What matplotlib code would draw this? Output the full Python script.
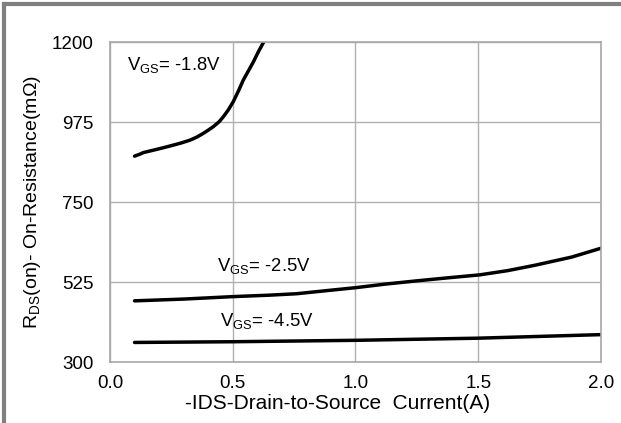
import matplotlib
matplotlib.use('Agg')
import matplotlib.pyplot as plt
from matplotlib.lines import Line2D

plt.rcParams['font.family'] = ['Liberation Sans', 'DejaVu Sans']
plt.rcParams['mathtext.fontset'] = 'custom'
plt.rcParams['mathtext.rm'] = 'Liberation Sans'
plt.rcParams['mathtext.it'] = 'Liberation Sans'

# data
x_18 = [0.10, 0.12, 0.136, 0.16, 0.19, 0.225, 0.258, 0.29, 0.326, 0.355, 0.38, 0.40, 0.421, 0.445, 0.462,
        0.482, 0.502, 0.523, 0.543, 0.564, 0.584, 0.604, 0.626]
y_18 = [879, 884, 889, 893, 898, 904, 910, 916, 924, 933, 943, 952, 962, 976, 990,
        1009, 1032, 1062, 1093, 1119, 1144, 1172, 1200]

x_25 = [0.10, 0.30, 0.504, 0.65, 0.76, 0.90, 1.00, 1.12, 1.246, 1.38, 1.505, 1.62, 1.73, 1.88, 2.00]
y_25 = [472, 477, 484, 488, 492, 502, 509, 519, 528, 537, 545, 557, 572, 595, 620]

x_45 = [0.10, 0.50, 1.00, 1.50, 2.00]
y_45 = [355, 357, 361, 367, 377]

labels = ['V$_{\\mathrm{GS}}$= -1.8V', 'V$_{\\mathrm{GS}}$= -2.5V', 'V$_{\\mathrm{GS}}$= -4.5V']
label_pos = [(0.07, 1134), (0.436, 571), (0.45, 416)]

yticks = [300, 525, 750, 975, 1200]
xticks = [0.0, 0.5, 1.0, 1.5, 2.0]

fig = plt.figure(figsize=(6.21, 4.23), dpi=100)
ax = fig.add_axes([0.1771, 0.1442, 0.7907, 0.7565])

for xs, ys in [(x_18, y_18), (x_25, y_25), (x_45, y_45)]:
    ax.plot(xs, ys, color='black', lw=2.5, solid_capstyle='round', solid_joinstyle='round')

for txt, (tx, ty) in zip(labels, label_pos):
    ax.text(tx, ty, txt, fontsize=13.3, va='center', ha='left')

ax.set_xlim(0, 2.0)
ax.set_ylim(300, 1200)
ax.set_xticks(xticks)
ax.set_xticklabels(['%.1f' % v for v in xticks])
ax.set_yticks(yticks)
ax.grid(True, color='#b0b0b0', lw=1.0)
ax.tick_params(length=0, labelsize=13.5)
ax.tick_params(axis='y', pad=12)
ax.tick_params(axis='x', pad=9)
for s in ax.spines.values():
    s.set_color('#a8a8a8')
    s.set_linewidth(1.2)

ax.set_xlabel('-IDS-Drain-to-Source  Current(A)', fontsize=15, labelpad=2, x=0.463)
ax.set_ylabel('R$_{\\mathrm{DS}}$(on)- On-Resistance(m\u03a9)', fontsize=14, labelpad=6)

# gray frame on top and left of the picture
fig.add_artist(Line2D([0.0065, 1.0], [0.9895, 0.9895], transform=fig.transFigure, color='#808080', lw=3))
fig.add_artist(Line2D([0.0065, 0.0065], [0.0, 0.9895], transform=fig.transFigure, color='#808080', lw=3))

fig.savefig('out.png', dpi=100)
